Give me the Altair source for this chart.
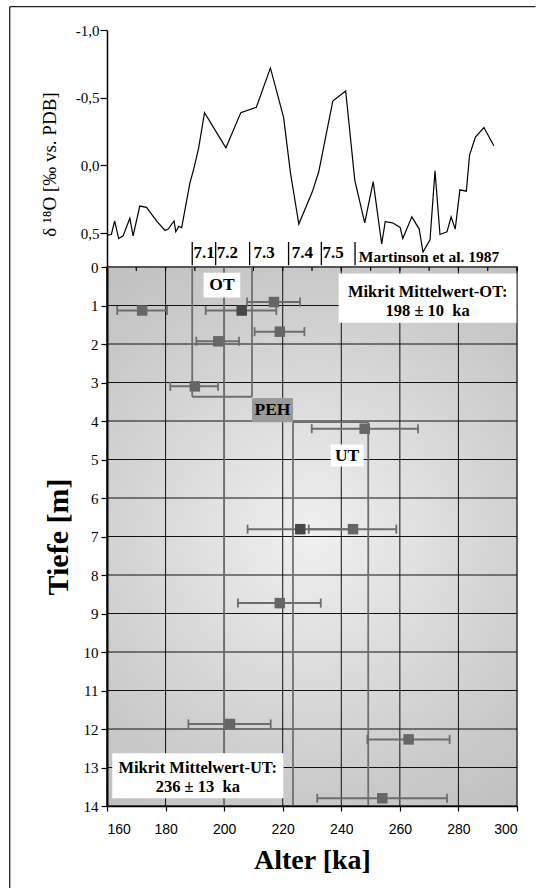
import altair as alt
import pandas as pd

SERIF = "Liberation Serif"
SANS = "Liberation Sans"

# ---------------- data ----------------
# Upper panel: delta 18O curve (Martinson et al. 1987)
curve_age = [160, 161.5, 162.6, 164, 165.5, 167.8, 168.9, 171.2, 173.5, 176.9, 179.8,
             180.9, 182.9, 183.5, 184.5, 185.5, 188.3, 189.7, 191.3, 193.3, 200.6,
             205.7, 211.0, 215.8, 220.3, 222.6, 225.5, 230.1, 232.3, 237.1, 241.5,
             244.6, 248.0, 250.9, 253.8, 255.0, 257.5, 260.1, 261.0, 264.1, 266.6,
             267.9, 270.3, 272.0, 273.7, 276.1, 277.5, 278.9, 280.5, 282.7, 283.8,
             285.8, 288.7, 292.1]
curve_d18o = [0.515, 0.51, 0.41, 0.54, 0.52, 0.39, 0.52, 0.30, 0.31, 0.41, 0.48,
              0.47, 0.41, 0.49, 0.45, 0.46, 0.13, 0.02, -0.13, -0.39, -0.13,
              -0.39, -0.43, -0.72, -0.355, 0.047, 0.433, 0.195, 0.047, -0.475, -0.55,
              0.108, 0.424, 0.12, 0.58, 0.416, 0.424, 0.458, 0.54, 0.38, 0.47,
              0.64, 0.55, 0.04, 0.51, 0.49, 0.38, 0.47, 0.18, 0.19, -0.076,
              -0.21, -0.28, -0.145]

# Isotope sub-stage boundaries and labels
stage_bounds = [189.1, 197.1, 208.7, 222.0, 233.2, 244.7]
stage_labels = ["7.1", "7.2", "7.3", "7.4", "7.5"]
stage_label_x = [189.5, 197.5, 210.0, 223.1, 233.6]

# Lower panel: samples (age, depth, error range)
sample_age = [172, 217, 206, 219, 198, 190, 248, 226, 244, 219, 202, 263, 254]
sample_depth = [1.13, 0.91, 1.13, 1.68, 1.93, 3.1, 4.2, 6.81, 6.81, 8.73, 11.87, 12.27, 13.8]
sample_lo = [163.5, 207.8, 193.7, 210.4, 190.5, 181.6, 229.9, 208.0, 228.9, 204.7, 187.8, 248.9, 231.8]
sample_hi = [180.5, 225.9, 217.8, 227.4, 205.1, 197.9, 266.2, 244.0, 258.8, 233.0, 215.9, 277.0, 276.1]
sample_tone = ["light", "light", "dark", "light", "light", "light", "light",
               "dark", "light", "light", "light", "light", "light"]

# Unit outlines: OT, PEH, UT
outline_x = [189.1, 209.5, 189.1, 200.0, 223.5, 223.5, 249.2]
outline_x2 = [189.1, 209.5, 209.5, 200.0, 249.2, 223.5, 249.2]
outline_y = [0, 0, 3.37, 0, 4.03, 4.03, 4.03]
outline_y2 = [3.37, 3.37, 3.37, 14, 4.03, 14, 14]

# Label boxes
box_x = [193.0, 209.5, 236.4, 239.1, 161.8]
box_x2 = [205.5, 223.5, 247.6, 299.8, 220.3]
box_y = [0.15, 3.40, 4.61, 0.17, 12.63]
box_y2 = [0.79, 4.03, 5.18, 1.45, 13.8]
box_kind = ["white", "grey", "white", "white", "white"]

label_text = ["OT", "PEH", "UT", "Mikrit Mittelwert-OT:", "198 \u00b1 10\u00a0 ka",
              "Mikrit Mittelwert-UT:", "236 \u00b1 13\u00a0 ka"]
label_x = [199.25, 216.5, 242.0, 269.5, 269.5, 191.0, 191.0]
label_y = [0.47, 3.71, 4.9, 0.64, 1.13, 13.0, 13.51]
label_kind = ["big", "big", "big", "small", "small", "small", "small"]

x_domain = [160, 300]
depth_domain = [0, 14]
d18o_domain = [-1.0, 0.75]
x_ticks = [160, 180, 200, 220, 240, 260, 280, 300]
x_minor = [160, 170, 180, 190, 200, 210, 220, 230, 240, 250, 260, 270, 280, 290, 300]
depth_ticks = list(range(0, 15))
grid_x = [180, 200, 220, 240, 260, 280]
grid_y = list(range(1, 14))
d18o_ticks = [-1.0, -0.75, -0.5, -0.25, 0.0, 0.25, 0.5]

# ---------------- upper panel ----------------
W = 410
xs = alt.Scale(domain=x_domain, nice=False, zero=False)
ys_up = alt.Scale(domain=d18o_domain, reverse=True, nice=False, zero=False)

up_xaxis = alt.Axis(values=x_minor, labels=False, tickSize=4, tickColor="black",
                    domainColor="black", domainWidth=1.5, grid=False, title=None)
up_yaxis = alt.Axis(values=d18o_ticks,
                    labelExpr="abs(datum.value*2 - round(datum.value*2)) < 0.001 ? "
                              "(datum.value < 0 ? '-' : '') + replace(format(abs(datum.value), '.1f'), '.', ',') : ''",
                    tickSize=7, tickColor="black", tickWidth=1.2, labelPadding=1,
                    labelFont=SERIF, labelFontSize=15, labelColor="black",
                    domainColor="black", domainWidth=1.5, grid=False,
                    title="\u03b4 \u00b9\u2078O [\u2030 vs. PDB]", titleFont=SERIF,
                    titleFontSize=19, titleFontWeight="normal", titleColor="black",
                    titleX=-58, titleY=134, titleBaseline="middle", titleAngle=-90)

df_curve = pd.DataFrame({"age": curve_age, "d18o": curve_d18o})
curve = alt.Chart(df_curve).mark_line(color="black", strokeWidth=1.2).encode(
    x=alt.X("age:Q", scale=xs, axis=up_xaxis),
    y=alt.Y("d18o:Q", scale=ys_up, axis=up_yaxis),
)

df_bounds = pd.DataFrame({"age": stage_bounds})
bars = alt.Chart(df_bounds).mark_rule(color="black", strokeWidth=1.3).encode(
    x=alt.X("age:Q", scale=xs, axis=up_xaxis),
    y=alt.datum(0.565), y2=alt.datum(0.737),
)

df_stage = pd.DataFrame({"age": stage_label_x, "label": stage_labels})
stage_txt = alt.Chart(df_stage).mark_text(
    align="left", baseline="alphabetic", font=SERIF, fontWeight="bold",
    fontSize=17, color="black").encode(
    x=alt.X("age:Q", scale=xs, axis=up_xaxis),
    y=alt.datum(0.68), text="label:N",
)

df_src = pd.DataFrame({"age": [246.0], "label": ["Martinson et al. 1987"]})
src_txt = alt.Chart(df_src).mark_text(
    align="left", baseline="alphabetic", font=SERIF, fontWeight="bold",
    fontSize=15.5, color="black").encode(
    x=alt.X("age:Q", scale=xs, axis=up_xaxis),
    y=alt.datum(0.715), text="label:N",
)

# decorative figure frame (left and top edges of the original page box)
df_one = pd.DataFrame({"k": [0]})
frame_left = alt.Chart(df_one).mark_rule(color="#222", strokeWidth=1.3).encode(
    x=alt.value(-97.3), y=alt.value(-23.3), y2=alt.value(858))
frame_top = alt.Chart(df_one).mark_rule(color="#222", strokeWidth=1.3).encode(
    x=alt.value(-97.3), x2=alt.value(428.5), y=alt.value(-23.3))

upper = alt.layer(frame_left, frame_top, curve, bars, stage_txt, src_txt).properties(
    width=W, height=237)

# ---------------- lower panel ----------------
ys_lo = alt.Scale(domain=depth_domain, reverse=True, nice=False, zero=False)
lo_xaxis = alt.Axis(values=x_ticks, tickSize=5, tickColor="black", tickWidth=1.2,
                    labelPadding=11, labelFont=SANS, labelFontSize=14, labelColor="black",
                    domainColor="black", domainWidth=1.5, grid=False, zindex=1,
                    title="Alter [ka]", titleFont=SERIF, titleFontSize=28,
                    titleFontWeight="bold", titleColor="black",
                    titleY=54, titleBaseline="middle")
lo_yaxis = alt.Axis(values=depth_ticks, tickSize=6, tickColor="black", tickWidth=1.2,
                    labelPadding=3, labelFont=SERIF, labelFontSize=15, labelColor="black",
                    domainColor="black", domainWidth=2, grid=False, zindex=1,
                    title="Tiefe [m]", titleFont=SERIF, titleFontSize=30,
                    titleFontWeight="bold", titleColor="black",
                    titleX=-49, titleBaseline="middle", titleAngle=-90)


def X(field):
    return alt.X(field, type="quantitative", scale=xs, axis=lo_xaxis)


def Y(field):
    return alt.Y(field, type="quantitative", scale=ys_lo, axis=lo_yaxis)


gradient = {
    "gradient": "radial",
    "x1": 0.5, "y1": 0.5, "r1": 0,
    "x2": 0.5, "y2": 0.5, "r2": 0.75,
    "stops": [
        {"offset": 0.0, "color": "#f0f0f0"},
        {"offset": 0.65, "color": "#c9c9c9"},
        {"offset": 1.0, "color": "#b8b8b8"},
    ],
}
df_bg = pd.DataFrame({"age": [x_domain[0]], "age2": [x_domain[1]],
                      "depth": [depth_domain[0]], "depth2": [depth_domain[1]]})
bg = alt.Chart(df_bg).mark_rect(fill=gradient, stroke="#333", strokeWidth=1.5).encode(
    x=X("age"), x2="age2", y=Y("depth"), y2="depth2")

df_gx = pd.DataFrame({"age": grid_x, "d0": depth_domain[0], "d1": depth_domain[1]})
gridx = alt.Chart(df_gx).mark_rule(color="#111", strokeWidth=1).encode(
    x=X("age"), y=Y("d0"), y2="d1")
df_gy = pd.DataFrame({"depth": grid_y, "a0": x_domain[0], "a1": x_domain[1]})
gridy = alt.Chart(df_gy).mark_rule(color="#111", strokeWidth=1).encode(
    y=Y("depth"), x=X("a0"), x2="a1")

df_minor = pd.DataFrame({"age": x_minor, "d0": depth_domain[0]})
top_ticks = alt.Chart(df_minor).mark_rule(color="black", strokeWidth=1.2, y2Offset=4).encode(
    x=X("age"), y=Y("d0"), y2="d0")

df_out = pd.DataFrame({"age": outline_x, "age2": outline_x2,
                       "depth": outline_y, "depth2": outline_y2})
outlines = alt.Chart(df_out).mark_rule(color="#6f6f6f", strokeWidth=1.8).encode(
    x=X("age"), x2="age2", y=Y("depth"), y2="depth2")

df_box = pd.DataFrame({"age": box_x, "age2": box_x2, "depth": box_y,
                       "depth2": box_y2, "kind": box_kind})
boxes = alt.Chart(df_box).mark_rect().encode(
    x=X("age"), x2="age2", y=Y("depth"), y2="depth2",
    fill=alt.Fill("kind:N", scale=alt.Scale(domain=["white", "grey"],
                                            range=["#ffffff", "#9a9a9a"]), legend=None))

df_s = pd.DataFrame({"age": sample_age, "depth": sample_depth, "lo": sample_lo,
                     "hi": sample_hi, "tone": sample_tone})
err = alt.Chart(df_s).mark_rule(color="#6d6d6d", strokeWidth=2).encode(
    x=X("lo"), x2="hi", y=Y("depth"))
df_caps = pd.DataFrame({"age": sample_lo + sample_hi, "depth": sample_depth + sample_depth})
caps = alt.Chart(df_caps).mark_rule(color="#6d6d6d", strokeWidth=1.8,
                                    yOffset=-4.5, y2Offset=4.5).encode(
    x=X("age"), y=Y("depth"), y2="depth")
squares = alt.Chart(df_s).mark_square(size=110, opacity=1).encode(
    x=X("age"), y=Y("depth"),
    color=alt.Color("tone:N", scale=alt.Scale(domain=["light", "dark"],
                                              range=["#666666", "#474747"]), legend=None))

df_lab = pd.DataFrame({"age": label_x, "depth": label_y, "text": label_text,
                       "kind": label_kind})
labels = alt.Chart(df_lab).mark_text(
    align="center", baseline="middle", font=SERIF, fontWeight="bold", color="black").encode(
    x=X("age"), y=Y("depth"), text="text:N",
    size=alt.Size("kind:N", scale=alt.Scale(domain=["big", "small"], range=[17.5, 16.5]),
                  legend=None))

lower = alt.layer(bg, gridx, gridy, top_ticks, outlines, err, caps, squares,
                  boxes, labels).properties(width=W, height=539)

chart = alt.vconcat(upper, lower, spacing=0, bounds="flush").properties(
    padding={"left": 9, "top": 6, "right": 0, "bottom": 0},
    background="white",
).configure_view(stroke=None)

chart.save("out.html", embed_options={"renderer": "svg", "actions": False})
